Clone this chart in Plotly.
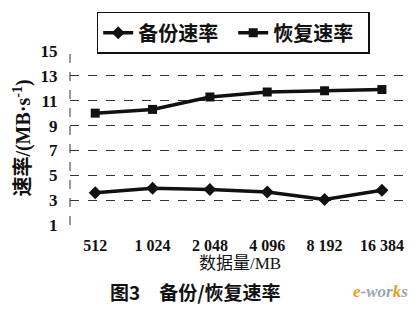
import plotly.graph_objects as go

categories = ["512", "1 024", "2 048", "4 096", "8 192", "16 384"]
backup_rate = [3.6, 3.95, 3.85, 3.65, 3.05, 3.8]
restore_rate = [10.0, 10.3, 11.3, 11.7, 11.8, 11.9]
series_names = ["备份速率", "恢复速率"]
y_ticks = [1, 3, 5, 7, 9, 11, 13, 15]

SERIF = "Liberation Serif"
CJK = "Liberation Serif, Noto Sans CJK SC"
PAD = "\u2002"  # legend spacing

fig = go.Figure()
fig.add_trace(go.Scatter(
    x=categories, y=backup_rate, name=series_names[0] + PAD, mode="lines+markers",
    line=dict(color="#111", width=3.5),
    marker=dict(symbol="diamond", size=10, color="#111"),
))
fig.add_trace(go.Scatter(
    x=categories, y=restore_rate, name=series_names[1] + PAD, mode="lines+markers",
    line=dict(color="#111", width=3.5),
    marker=dict(symbol="square", size=9, color="#111"),
))

fig.update_layout(
    width=420, height=319,
    margin=dict(l=70, r=10, t=51, b=94),
    paper_bgcolor="white", plot_bgcolor="white",
    showlegend=True,
    legend=dict(
        orientation="h", x=0.48, xanchor="center", y=1.225, yanchor="top",
        bordercolor="#111", borderwidth=1.5,
        font=dict(family=CJK, size=20, color="#111", weight="bold"),
        itemwidth=30, tracegroupgap=0,
    ),
    font=dict(family=SERIF, color="#111"),
)
fig.update_xaxes(
    type="category", range=[-0.44, 5.49],
    showgrid=False, zeroline=False, showline=False,
    ticks="outside", ticklen=6, tickcolor="rgba(0,0,0,0)",
    tickfont=dict(family=SERIF, size=16, weight="bold", color="#111"),
    title=dict(text="数据量/MB", font=dict(family=CJK, size=17, color="#111"), standoff=2),
)
fig.update_yaxes(
    range=[1, 15], tickvals=y_ticks,
    showgrid=True, gridcolor="#333", griddash="dash", gridwidth=1,
    zeroline=False, showline=False,
    ticks="outside", ticklen=8, tickcolor="rgba(0,0,0,0)",
    tickfont=dict(family=SERIF, size=17, weight="bold", color="#111"),
    title=dict(text="速率/(MB·s<sup>-1</sup>)", font=dict(family=CJK, size=20, color="#111", weight="bold"), standoff=4),
)
fig.add_shape(type="line", xref="paper", yref="paper", x0=0, x1=0, y0=0, y1=1,
              line=dict(color="#333", width=1, dash="dash"))
fig.add_annotation(
    text="图3　备份/恢复速率", xref="paper", yref="paper", x=0.37, y=-0.38,
    xanchor="center", yanchor="middle", showarrow=False,
    font=dict(family="Noto Sans CJK SC", size=19, weight="bold", color="#111"),
)
fig.add_annotation(
    text="<i><span style='color:#e8a020'>e</span><span style='color:#9aa6b4'>-wor</span><span style='color:#e8a020'>k</span><span style='color:#9aa6b4'>s</span></i>",
    xref="paper", yref="paper", x=1.0, y=-0.385, xanchor="right", yanchor="middle",
    showarrow=False, font=dict(family="Liberation Serif", size=17, weight="bold"),
)

fig.write_html("out.html")
